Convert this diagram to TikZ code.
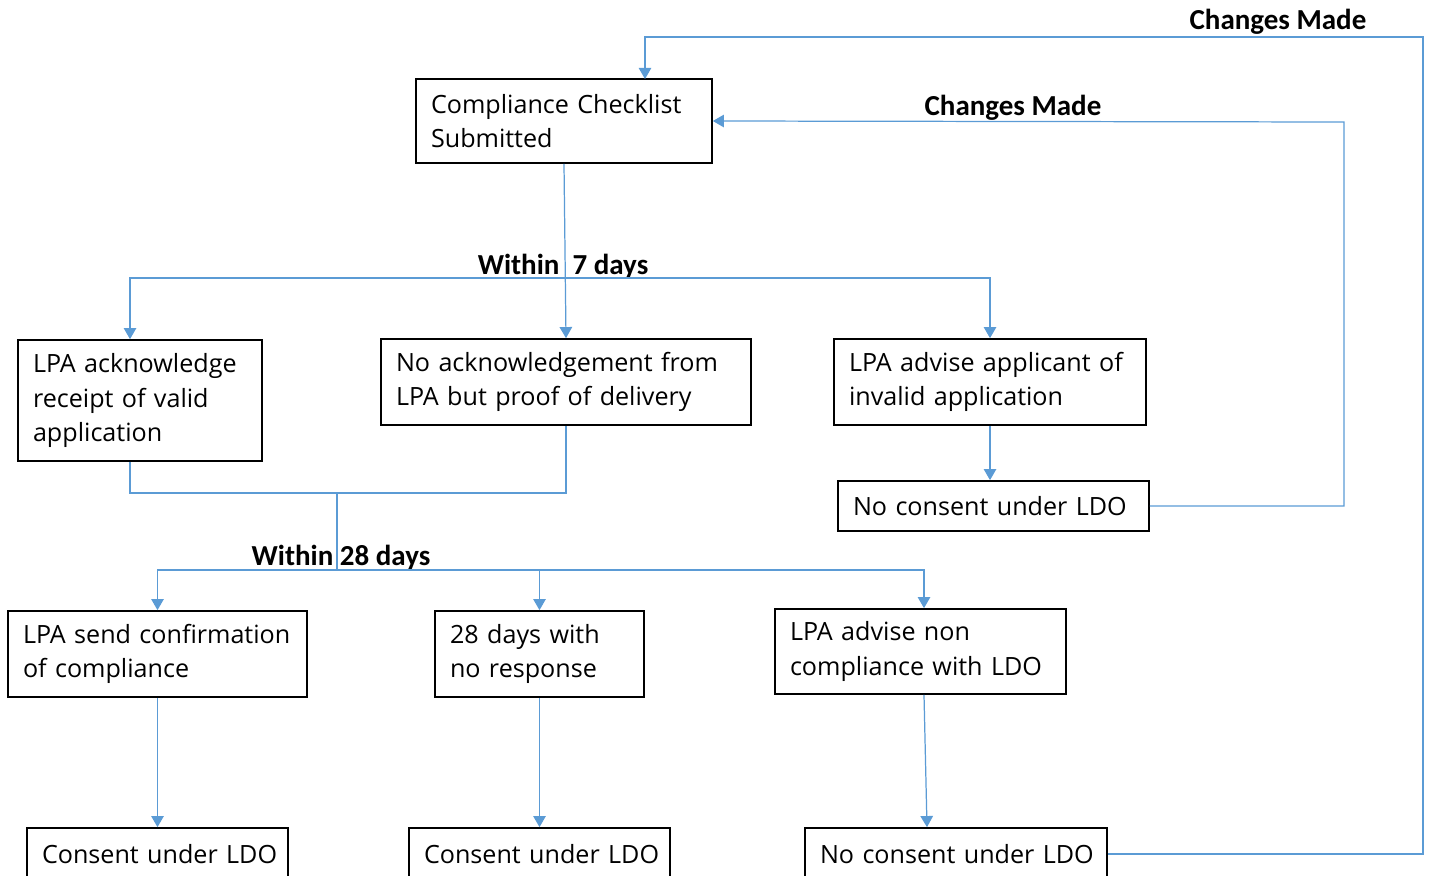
\documentclass[tikz,border=0pt]{standalone}
\usepackage{fontspec}
\setmainfont{Open Sans}
\newfontfamily\labelfont{Carlito}
\usepackage{tikz}
\usetikzlibrary{arrows}

\definecolor{flowblue}{HTML}{5B9BD5}
\tikzset{
	box/.style={draw, line width=1pt, inner xsep=0.3cm, inner ysep=2pt, align=left,
		font=\fontsize{14.3}{19.8}\selectfont},
	flow/.style={color=flowblue, line width=0.7pt, >=triangle 60},
	tag/.style={font=\labelfont\bfseries\fontsize{16.5}{18}\selectfont, inner sep=1pt}
}

\begin{document}
\begin{tikzpicture}[x=0.02cm, y=-0.02cm]
\useasboundingbox (0,0) rectangle (1429,875);

\node[box, text width=5.32cm, minimum height=1.68cm] (cs) at (564,121) {Compliance Checklist\\Submitted};

\node[box, text width=4.28cm, minimum height=2.42cm] (ack) at (140,400.5) {LPA acknowledge\\receipt of valid\\application};
\node[box, text width=6.80cm, minimum height=1.72cm] (noack) at (566,382) {No acknowledgement from\\LPA but proof of delivery};
\node[box, text width=5.64cm, minimum height=1.72cm] (inv) at (990,382) {LPA advise applicant of\\invalid application};
\node[box, text width=5.62cm, minimum height=1.00cm] (nc1) at (993.5,506) {\mbox{No consent under LDO}};

\node[box, text width=5.38cm, minimum height=1.72cm] (conf) at (157.5,654) {LPA send confirmation\\of compliance};
\node[box, text width=3.58cm, minimum height=1.72cm] (d28) at (539.5,654) {28 days with\\no response};
\node[box, text width=5.22cm, minimum height=1.70cm] (ncl) at (920.5,651.5) {LPA advise non\\compliance with LDO};

\node[box, text width=4.62cm, minimum height=1.04cm] (c1) at (157.5,854) {\mbox{Consent under LDO}};
\node[box, text width=4.62cm, minimum height=1.04cm] (c2) at (539.5,854) {\mbox{Consent under LDO}};
\node[box, text width=5.44cm, minimum height=1.04cm] (nc2) at (956,854) {\mbox{No consent under LDO}};

\coordinate (t7) at (566,278);
\coordinate (m) at (337,493);
\coordinate (t28) at (337,570);
\coordinate (r1) at (1344,122);
\coordinate (r2) at (1423,37);
\coordinate (in2) at (645,79);

\node[tag, anchor=base] (w7) at (563,274) {Within\ \ 7 days};
\node[tag, anchor=base] (w28) at (341,565) {Within 28 days};
\node[tag, anchor=base] (cm1) at (1013,115) {Changes Made};
\node[tag, anchor=base] (cm2) at (1278,30) {Changes Made};

\path[flow, ->]
(cs.south) edge (noack.north)
(inv.south) edge (inv.south |- nc1.north)
(conf.south) edge (c1.north)
(d28.south) edge (c2.north)
([xshift=0.07cm]ncl.south) edge ([xshift=0.13cm]ncl.south |- nc2.north)
(d28.north |- t28) edge (d28.north)
;
\draw[flow, <->] ([xshift=-0.2cm]ack.north) |- (t7) -| (inv.north);
\draw[flow] ([xshift=-0.2cm]ack.south) |- (m) -| (noack.south);
\draw[flow] (m) -- (t28);
\draw[flow, <->] (conf.north) |- (t28) -| ([xshift=0.07cm]ncl.north);
\draw[flow, ->] (nc1.east) -| (r1) -- (cs.east);
\draw[flow, ->] (nc2.east) -| (r2) -| (in2);
\end{tikzpicture}
\end{document}
